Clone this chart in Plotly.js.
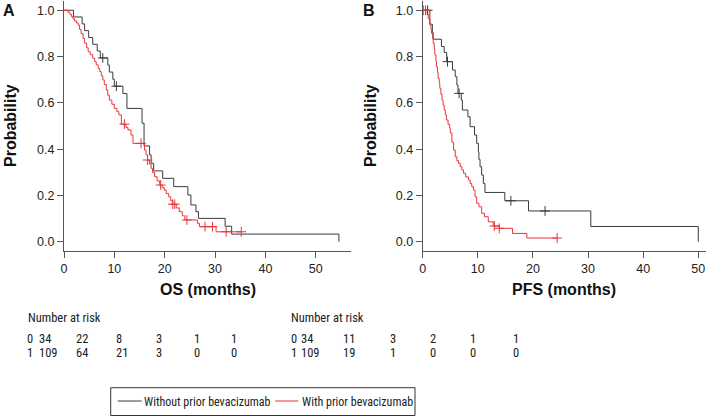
<!DOCTYPE html>
<html>
<head>
<meta charset="utf-8">
<script src="https://cdn.plot.ly/plotly-3.0.1.min.js"></script>
<style>html,body{margin:0;padding:0;background:#fff;}#chart{width:710px;height:416px;}</style>
</head>
<body>
<div id="chart"></div>
<script>
// ---------- Data ----------
// Panel A: overall survival, group 0 = without prior bevacizumab
const osTime0 = [0,1.9,3.6,4.1,4.9,5.7,6.6,7.2,8.7,9.0,9.7,10.0,11.7,12.5,15.5,15.9,17.0,17.3,17.8,19.6,21.8,24.6,25.2,26.2,26.7,32.0,33.3,54.6];
const osSurv0 = [1,0.971,0.941,0.912,0.882,0.853,0.824,0.794,0.763,0.733,0.702,0.672,0.640,0.576,0.512,0.414,0.375,0.339,0.306,0.274,0.238,0.202,0.159,0.130,0.101,0.067,0.033,0.0];
const osCensT0 = [7.7,10.4];
const osCensS0 = [0.794,0.672];
// group 1 = with prior bevacizumab
const osTime1 = [0,0.8,1.2,1.5,1.8,2.1,2.5,2.8,3.1,3.4,3.8,4.1,4.5,4.8,5.2,5.7,6.1,6.4,6.8,7.1,7.4,7.7,8.0,8.4,8.7,9.0,9.5,10.0,10.5,10.9,11.4,12.3,12.7,13.3,13.7,16.0,16.3,16.6,17.0,17.3,17.6,18.0,18.5,19.0,19.5,19.9,20.3,20.8,21.2,21.6,22.3,22.9,23.5,24.0,26.5,26.9,30.2,35.2];
const osSurv1 = [1,0.991,0.982,0.972,0.963,0.954,0.945,0.936,0.917,0.899,0.878,0.858,0.838,0.821,0.808,0.793,0.778,0.764,0.748,0.735,0.717,0.699,0.679,0.656,0.633,0.612,0.594,0.576,0.562,0.548,0.508,0.494,0.483,0.461,0.425,0.396,0.375,0.353,0.335,0.317,0.299,0.281,0.263,0.245,0.234,0.223,0.208,0.194,0.177,0.162,0.146,0.130,0.112,0.094,0.080,0.065,0.043,0.043];
const osCensT1 = [12.0,15.3,16.6,19.2,21.6,22.0,24.4,28.0,29.5,32.2,35.2];
const osCensS1 = [0.508,0.425,0.353,0.245,0.162,0.162,0.094,0.065,0.065,0.043,0.043];

// Panel B: progression-free survival
const pfsTime0 = [0,1.3,1.75,1.9,3.4,3.9,4.35,5.4,5.9,6.2,6.4,7.0,7.2,8.2,8.6,9.4,9.8,10.1,10.2,10.4,10.7,11.0,11.3,14.9,19.2,30.5,50.0];
const pfsSurv0 = [1,0.94,0.905,0.875,0.843,0.818,0.778,0.742,0.713,0.677,0.641,0.612,0.569,0.540,0.497,0.461,0.425,0.389,0.356,0.324,0.288,0.252,0.213,0.177,0.133,0.066,0.0];
const pfsCensT0 = [0.9,4.5,6.6,16.0,22.2];
const pfsCensS0 = [1.0,0.778,0.641,0.177,0.133];
const pfsTime1 = [0,0.8,1.0,1.3,1.5,1.6,1.8,1.9,2.1,2.2,2.4,2.5,2.7,2.8,3.0,3.1,3.3,3.5,3.7,3.9,4.1,4.3,4.6,4.9,5.0,5.3,5.6,5.9,6.2,6.5,6.8,7.1,7.4,7.8,8.3,8.6,8.9,9.2,9.5,9.8,10.2,10.7,11.2,11.9,12.8,13.9,16.3,18.9,24.4];
const pfsSurv1 = [1,0.982,0.964,0.936,0.918,0.90,0.878,0.857,0.832,0.807,0.78,0.756,0.73,0.706,0.685,0.663,0.637,0.612,0.59,0.569,0.548,0.526,0.507,0.49,0.47,0.43,0.396,0.367,0.35,0.339,0.324,0.31,0.296,0.28,0.267,0.252,0.238,0.223,0.194,0.166,0.151,0.123,0.108,0.086,0.068,0.058,0.036,0.016,0.016];
const pfsCensT1 = [0.1,0.5,13.0,13.9,24.4];
const pfsCensS1 = [1.0,1.0,0.068,0.058,0.016];

// Number at risk
const riskGroups = ["0","1"];
const riskOS0 = [34,22,8,3,1,1];
const riskOS1 = [109,64,21,3,0,0];
const riskPFS0 = [34,11,3,2,1,1];
const riskPFS1 = [109,19,1,0,0,0];

const yTickVals = [0,0.2,0.4,0.6,0.8,1.0];
const yTickText = ["0.0","0.2","0.4","0.6","0.8","1.0"];
const xTickVals = [0,10,20,30,40,50];

const seriesNames = ["Without prior bevacizumab","With prior bevacizumab"];

// ---------- Styling ----------
const W = 710, H = 416;
const px = x => x / W;
const py = y => 1 - y / H;
const C0 = "#3a3a3a", C1 = "#e8353a";
const AX = "#555555";
const NARROW = "'Roboto Condensed','Liberation Sans',Arial,sans-serif";
const SANS = "'Liberation Sans',Arial,sans-serif";

function curve(x, y, color, name, xa, ya) {
  return {x: x, y: y, type: "scatter", mode: "lines", line: {shape: "hv", color: color, width: 1},
          name: name, showlegend: false, xaxis: xa, yaxis: ya, hoverinfo: "skip"};
}
function cens(x, y, color, name, xa, ya) {
  return {x: x, y: y, type: "scatter", mode: "markers", showlegend: false, name: name,
          marker: {symbol: "cross-thin", size: 7, color: color, line: {color: color, width: 1}},
          xaxis: xa, yaxis: ya, hoverinfo: "skip"};
}

const traces = [
  curve(osTime0, osSurv0, C0, seriesNames[0], "x", "y"),
  curve(osTime1, osSurv1, C1, seriesNames[1], "x", "y"),
  cens(osCensT0, osCensS0, C0, seriesNames[0], "x", "y"),
  cens(osCensT1, osCensS1, C1, seriesNames[1], "x", "y"),
  curve(pfsTime0, pfsSurv0, C0, seriesNames[0], "x2", "y2"),
  curve(pfsTime1, pfsSurv1, C1, seriesNames[1], "x2", "y2"),
  cens(pfsCensT0, pfsCensS0, C0, seriesNames[0], "x2", "y2"),
  cens(pfsCensT1, pfsCensS1, C1, seriesNames[1], "x2", "y2")
];

function xax(domain, range) {
  return {domain: domain, range: range, showline: true, linecolor: AX, linewidth: 1, ticks: "outside",
          ticklen: 6, tickcolor: AX, tickvals: xTickVals, showgrid: false, zeroline: false,
          tickfont: {family: SANS, size: 12.5, color: "#222"}, fixedrange: true};
}
function yax(domain, anchor) {
  return {domain: domain, range: [-0.04, 1.04], anchor: anchor, showline: true, linecolor: AX, linewidth: 1,
          ticks: "outside", ticklen: 6, tickcolor: AX, tickvals: yTickVals, ticktext: yTickText,
          showgrid: false, zeroline: false, tickfont: {family: SANS, size: 12.5, color: "#222"}, fixedrange: true};
}

const ann = [];
function txt(x, y, text, opts) {
  ann.push(Object.assign({xref: "paper", yref: "paper", x: px(x), y: py(y), text: text, showarrow: false,
    xanchor: "center", yanchor: "middle", borderpad: 0, borderwidth: 0,
    font: {family: SANS, size: 12, color: "#222"}}, opts || {}));
}
// panel labels
txt(9, 10.5, "<b>A</b>", {font: {family: SANS, size: 16, color: "#111"}});
txt(369, 10.5, "<b>B</b>", {font: {family: SANS, size: 16, color: "#111"}});
// axis titles
txt(207.5, 289.5, "<b>OS (months)</b>", {font: {family: SANS, size: 16, color: "#111"}});
txt(564, 289.5, "<b>PFS (months)</b>", {font: {family: SANS, size: 16, color: "#111"}});
txt(10, 126, "<b>Probability</b>", {textangle: -90, font: {family: SANS, size: 16, color: "#111"}});
txt(370, 126, "<b>Probability</b>", {textangle: -90, font: {family: SANS, size: 16, color: "#111"}});

// number-at-risk tables
const tf = {family: NARROW, size: 12.5, color: "#222"};
function table(x0, cols, rows) {
  txt(x0, 317.7, "Number at risk", {xanchor: "left", font: tf});
  const rowY = [338.8, 352.2];
  rows.forEach((vals, r) => {
    txt(x0, rowY[r], riskGroups[r], {xanchor: "left", font: tf});
    vals.forEach((v, i) => txt(cols[i], rowY[r], String(v), {xanchor: "left", font: tf}));
  });
}
table(27.5, [38.8, 75.5, 116, 156, 193.8, 230.5], [riskOS0, riskOS1]);
table(291.2, [301.2, 342.8, 389.5, 429.5, 469.5, 512.8], [riskPFS0, riskPFS1]);

// legend (drawn as a boxed key)
const lf = {family: NARROW, size: 12, color: "#222"};
const shapes = [
  {type: "rect", xref: "paper", yref: "paper", x0: px(110.7), x1: px(415), y0: py(415.5), y1: py(387.7),
   line: {color: "#333", width: 1}, fillcolor: "rgba(0,0,0,0)"},
  {type: "line", xref: "paper", yref: "paper", x0: px(117.7), x1: px(141.7), y0: py(401), y1: py(401),
   line: {color: C0, width: 1}},
  {type: "line", xref: "paper", yref: "paper", x0: px(275), x1: px(298.3), y0: py(401), y1: py(401),
   line: {color: C1, width: 1}}
];
txt(144, 401.5, seriesNames[0], {xanchor: "left", font: lf});
txt(301.5, 401.5, seriesNames[1], {xanchor: "left", font: lf});

const layout = {
  width: W, height: H, autosize: false,
  margin: {l: 0, r: 0, t: 0, b: 0, pad: 0},
  paper_bgcolor: "#fff", plot_bgcolor: "#fff",
  xaxis: xax([px(64), px(351)], [0, 57]),
  yaxis: yax([py(251), py(1)], "x"),
  xaxis2: Object.assign(xax([px(422.7), px(706)], [0, 51.4]), {anchor: "y2"}),
  yaxis2: yax([py(251), py(1)], "x2"),
  showlegend: false,
  shapes: shapes,
  annotations: ann
};

Plotly.newPlot("chart", traces, layout, {staticPlot: true, displayModeBar: false});
</script>
</body>
</html>
